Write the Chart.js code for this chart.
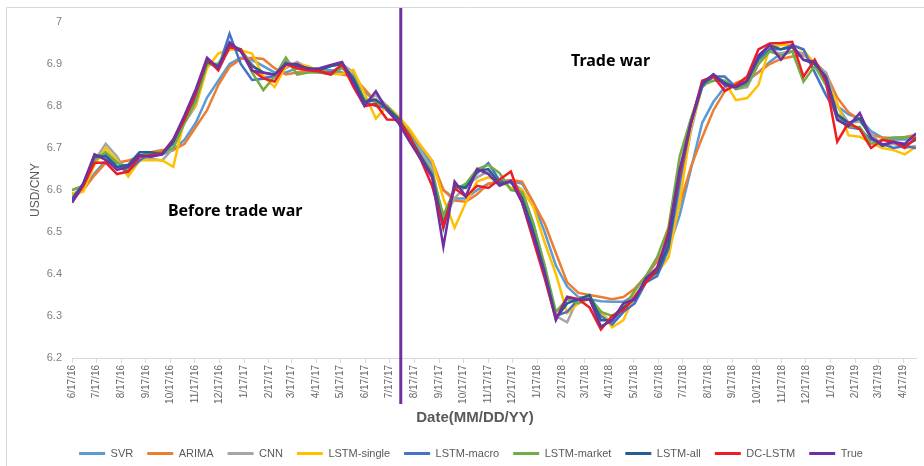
<!DOCTYPE html>
<html>
<head>
<meta charset="utf-8">
<title>USD/CNY forecasts</title>
<script src="https://cdn.jsdelivr.net/npm/chart.js@4.4.1/dist/chart.umd.min.js"></script>
<style>
  html, body { margin: 0; padding: 0; background: #fff; }
</style>
</head>
<body>
<canvas id="fxChart" width="924" height="466"></canvas>
<script>
// month ticks on the date axis
const tickLabels = [
  '6/17/16', '7/17/16', '8/17/16', '9/17/16', '10/17/16', '11/17/16', '12/17/16',
  '1/17/17', '2/17/17', '3/17/17', '4/17/17', '5/17/17', '6/17/17', '7/17/17',
  '8/17/17', '9/17/17', '10/17/17', '11/17/17', '12/17/17',
  '1/17/18', '2/17/18', '3/17/18', '4/17/18', '5/17/18', '6/17/18', '7/17/18',
  '8/17/18', '9/17/18', '10/17/18', '11/17/18', '12/17/18',
  '1/17/19', '2/17/19', '3/17/19', '4/17/19'
];

// one value every two weeks, starting 6/17/16
const startDate = '6/17/16';
const sampleStep = 14;
const tradeWarStart = '7/31/17';

const svr = [
  6.580, 6.600, 6.640, 6.670, 6.665, 6.655, 6.670, 6.680, 6.685, 6.695,
  6.720, 6.760, 6.820, 6.860, 6.900, 6.915, 6.910, 6.895, 6.880, 6.880,
  6.890, 6.885, 6.885, 6.885, 6.880, 6.870, 6.835, 6.810, 6.790, 6.770,
  6.735, 6.700, 6.660, 6.600, 6.580, 6.580, 6.600, 6.615, 6.620, 6.622,
  6.615, 6.570, 6.500, 6.420, 6.370, 6.345, 6.340, 6.335, 6.334, 6.334,
  6.350, 6.380, 6.415, 6.460, 6.540, 6.650, 6.760, 6.810, 6.845, 6.850,
  6.860, 6.880, 6.905, 6.925, 6.930, 6.925, 6.900, 6.870, 6.800, 6.780,
  6.770, 6.740, 6.725, 6.720, 6.720, 6.720
];
const arima = [
  6.590, 6.600, 6.635, 6.665, 6.665, 6.670, 6.680, 6.690, 6.695, 6.695,
  6.710, 6.750, 6.790, 6.850, 6.893, 6.912, 6.915, 6.912, 6.890, 6.875,
  6.880, 6.885, 6.885, 6.880, 6.875, 6.870, 6.840, 6.810, 6.790, 6.765,
  6.740, 6.705, 6.670, 6.600, 6.575, 6.572, 6.590, 6.615, 6.620, 6.624,
  6.620, 6.570, 6.520, 6.450, 6.380, 6.355, 6.350, 6.345, 6.340, 6.345,
  6.365, 6.395, 6.430, 6.480, 6.565, 6.655, 6.725, 6.790, 6.835, 6.855,
  6.865, 6.880, 6.900, 6.912, 6.918, 6.921, 6.905, 6.878, 6.820, 6.785,
  6.767, 6.731, 6.725, 6.724, 6.726, 6.731
];
const cnn = [
  6.600, 6.610, 6.670, 6.710, 6.680, 6.635, 6.670, 6.675, 6.670, 6.700,
  6.760, 6.800, 6.900, 6.900, 6.935, 6.935, 6.900, 6.870, 6.868, 6.890,
  6.905, 6.890, 6.885, 6.895, 6.900, 6.880, 6.810, 6.826, 6.800, 6.775,
  6.730, 6.690, 6.650, 6.530, 6.580, 6.610, 6.630, 6.645, 6.620, 6.620,
  6.600, 6.520, 6.420, 6.300, 6.285, 6.345, 6.340, 6.310, 6.280, 6.310,
  6.340, 6.380, 6.405, 6.440, 6.600, 6.740, 6.850, 6.870, 6.860, 6.840,
  6.845, 6.900, 6.930, 6.925, 6.930, 6.925, 6.900, 6.880, 6.800, 6.760,
  6.763, 6.735, 6.705, 6.710, 6.700, 6.705
];
const lstmSingle = [
  6.592, 6.596, 6.660, 6.700, 6.671, 6.632, 6.671, 6.671, 6.671, 6.655,
  6.770, 6.800, 6.890, 6.925, 6.935, 6.933, 6.925, 6.870, 6.845, 6.895,
  6.900, 6.895, 6.882, 6.876, 6.876, 6.886, 6.830, 6.770, 6.800, 6.775,
  6.745, 6.705, 6.670, 6.580, 6.510, 6.570, 6.620, 6.630, 6.622, 6.605,
  6.600, 6.560, 6.475, 6.400, 6.307, 6.330, 6.340, 6.312, 6.273, 6.290,
  6.350, 6.380, 6.402, 6.440, 6.570, 6.750, 6.845, 6.870, 6.858, 6.814,
  6.819, 6.850, 6.940, 6.945, 6.945, 6.933, 6.900, 6.860, 6.807, 6.730,
  6.727, 6.712, 6.700, 6.695, 6.685, 6.703
];
const lstmMacro = [
  6.580, 6.615, 6.680, 6.685, 6.655, 6.645, 6.670, 6.690, 6.688, 6.710,
  6.770, 6.820, 6.905, 6.890, 6.972, 6.900, 6.862, 6.865, 6.872, 6.905,
  6.895, 6.890, 6.880, 6.880, 6.895, 6.870, 6.810, 6.800, 6.795, 6.770,
  6.730, 6.680, 6.640, 6.520, 6.605, 6.610, 6.640, 6.664, 6.622, 6.618,
  6.590, 6.510, 6.410, 6.300, 6.310, 6.340, 6.340, 6.300, 6.280, 6.310,
  6.330, 6.380, 6.395, 6.460, 6.620, 6.760, 6.845, 6.870, 6.870, 6.845,
  6.855, 6.910, 6.935, 6.935, 6.945, 6.935, 6.880, 6.826, 6.780, 6.750,
  6.745, 6.720, 6.710, 6.700, 6.705, 6.700
];
const lstmMarket = [
  6.600, 6.610, 6.670, 6.690, 6.665, 6.650, 6.680, 6.690, 6.690, 6.700,
  6.760, 6.810, 6.900, 6.900, 6.945, 6.935, 6.880, 6.838, 6.870, 6.915,
  6.875, 6.880, 6.880, 6.875, 6.890, 6.870, 6.815, 6.810, 6.800, 6.770,
  6.730, 6.680, 6.640, 6.540, 6.600, 6.615, 6.650, 6.660, 6.640, 6.600,
  6.595, 6.520, 6.420, 6.310, 6.340, 6.330, 6.345, 6.310, 6.300, 6.320,
  6.360, 6.395, 6.440, 6.510, 6.680, 6.770, 6.850, 6.860, 6.860, 6.840,
  6.850, 6.900, 6.930, 6.920, 6.930, 6.858, 6.895, 6.850, 6.770, 6.750,
  6.750, 6.710, 6.720, 6.725, 6.725, 6.725
];
const lstmAll = [
  6.575, 6.615, 6.680, 6.680, 6.655, 6.660, 6.690, 6.690, 6.685, 6.715,
  6.770, 6.830, 6.905, 6.895, 6.945, 6.930, 6.895, 6.880, 6.875, 6.900,
  6.895, 6.890, 6.885, 6.895, 6.900, 6.865, 6.810, 6.815, 6.795, 6.770,
  6.725, 6.680, 6.635, 6.510, 6.610, 6.605, 6.645, 6.650, 6.615, 6.620,
  6.580, 6.500, 6.405, 6.295, 6.330, 6.340, 6.350, 6.290, 6.290, 6.320,
  6.340, 6.385, 6.405, 6.470, 6.640, 6.760, 6.850, 6.875, 6.855, 6.845,
  6.860, 6.915, 6.945, 6.935, 6.940, 6.910, 6.900, 6.870, 6.780, 6.760,
  6.770, 6.725, 6.705, 6.715, 6.705, 6.720
];
const dcLstm = [
  6.570, 6.610, 6.665, 6.665, 6.638, 6.644, 6.679, 6.683, 6.687, 6.720,
  6.768, 6.830, 6.912, 6.885, 6.940, 6.935, 6.886, 6.866, 6.858, 6.900,
  6.890, 6.885, 6.882, 6.875, 6.900, 6.846, 6.800, 6.805, 6.768, 6.767,
  6.727, 6.672, 6.610, 6.513, 6.604, 6.584, 6.610, 6.605, 6.625, 6.644,
  6.570, 6.480, 6.390, 6.292, 6.346, 6.340, 6.320, 6.268, 6.300, 6.314,
  6.346, 6.380, 6.412, 6.500, 6.640, 6.760, 6.860, 6.870, 6.836, 6.850,
  6.870, 6.935, 6.949, 6.950, 6.953, 6.870, 6.910, 6.858, 6.715, 6.760,
  6.745, 6.700, 6.719, 6.715, 6.700, 6.725
];
const trueRate = [
  6.570, 6.615, 6.685, 6.672, 6.648, 6.655, 6.683, 6.679, 6.685, 6.720,
  6.778, 6.840, 6.915, 6.890, 6.952, 6.930, 6.884, 6.879, 6.874, 6.900,
  6.900, 6.888, 6.890, 6.898, 6.905, 6.855, 6.800, 6.835, 6.790, 6.760,
  6.715, 6.673, 6.630, 6.465, 6.620, 6.585, 6.650, 6.638, 6.610, 6.622,
  6.570, 6.490, 6.400, 6.290, 6.345, 6.338, 6.340, 6.275, 6.290, 6.330,
  6.340, 6.390, 6.415, 6.490, 6.650, 6.760, 6.855, 6.875, 6.850, 6.845,
  6.860, 6.920, 6.945, 6.910, 6.945, 6.910, 6.905, 6.866, 6.767, 6.752,
  6.783, 6.725, 6.708, 6.714, 6.710, 6.735
];

const seriesNames = ['SVR', 'ARIMA', 'CNN', 'LSTM-single', 'LSTM-macro', 'LSTM-market', 'LSTM-all', 'DC-LSTM', 'True'];
const seriesValues = [svr, arima, cnn, lstmSingle, lstmMacro, lstmMarket, lstmAll, dcLstm, trueRate];
const seriesColors = ['#5B9BD5', '#ED7D31', '#A5A5A5', '#FFC000', '#4472C4', '#70AD47', '#255E91', '#EE1C25', '#7030A0'];

const xTitle = 'Date(MM/DD/YY)';
const notes = [
  { text: 'Before trade war', date: '1/6/17', value: 6.55 },
  { text: 'Trade war', date: '4/18/18', value: 6.905 }
];

// days since the first sample
function toDate(label) {
  const [m, d, y] = label.split('/').map(Number);
  return Date.UTC(2000 + y, m - 1, d);
}
function dayOf(label) {
  return Math.round((toDate(label) - toDate(startDate)) / 86400000);
}

const tickDays = tickLabels.map(dayOf);

const datasets = seriesNames.map((name, i) => ({
  label: name,
  data: seriesValues[i].map((v, j) => ({ x: j * sampleStep, y: v })),
  borderColor: seriesColors[i],
  backgroundColor: seriesColors[i],
  borderWidth: 2.5,
  pointRadius: 0,
  tension: 0,
  order: seriesNames.length - i   // later series on top, like the original
}));

// light frame round the whole chart
const framePlugin = {
  id: 'frame',
  beforeDraw(chart) {
    const ctx = chart.ctx;
    ctx.save();
    ctx.fillStyle = '#fff';
    ctx.fillRect(0, 0, chart.width, chart.height);
    ctx.strokeStyle = '#d9d9d9';
    ctx.lineWidth = 1;
    ctx.beginPath();
    ctx.moveTo(6.5, chart.height);
    ctx.lineTo(6.5, 7.5);
    ctx.lineTo(chart.width, 7.5);
    ctx.stroke();
    ctx.restore();
  }
};

// trade war divider, the two labels and the axis title (centred like the legend)
const markerPlugin = {
  id: 'markers',
  afterDatasetsDraw(chart) {
    const ctx = chart.ctx;
    const x = chart.scales.x;
    const y = chart.scales.y;
    ctx.save();
    const lineX = x.getPixelForValue(dayOf(tradeWarStart));
    ctx.strokeStyle = '#7030A0';
    ctx.lineWidth = 3;
    ctx.beginPath();
    ctx.moveTo(lineX, 8);
    ctx.lineTo(lineX, chart.chartArea.bottom + 46);
    ctx.stroke();

    ctx.fillStyle = '#000';
    ctx.font = "bold 16px 'Noto Sans', 'Liberation Sans', sans-serif";
    ctx.textAlign = 'center';
    ctx.textBaseline = 'middle';
    notes.forEach(n => {
      ctx.fillText(n.text, x.getPixelForValue(dayOf(n.date)), y.getPixelForValue(n.value));
    });

    const lg = chart.legend;
    ctx.fillStyle = '#595959';
    ctx.font = "bold 15px 'Liberation Sans', Arial, sans-serif";
    ctx.fillText(xTitle, (lg.left + lg.right) / 2 + 4, chart.chartArea.bottom + 60);
    ctx.restore();
  }
};

Chart.defaults.font.family = "'Liberation Sans', Arial, sans-serif";

new Chart(document.getElementById('fxChart'), {
  type: 'line',
  data: { datasets: datasets },
  options: {
    responsive: false,
    animation: false,
    devicePixelRatio: 1,
    layout: { padding: { left: 26, right: 8, top: 22, bottom: 0 } },
    scales: {
      x: {
        type: 'linear',
        min: 0,
        max: (trueRate.length - 1) * sampleStep,
        afterBuildTicks: axis => { axis.ticks = tickDays.map(v => ({ value: v })); },
        afterFit: axis => { axis.height = 76; },
        grid: { display: true, drawOnChartArea: false, drawTicks: true, tickLength: 5, color: '#d9d9d9' },
        border: { display: true, color: '#d9d9d9' },
        ticks: {
          autoSkip: false,
          minRotation: 90,
          maxRotation: 90,
          padding: 2,
          color: '#666',
          font: { size: 10 },
          callback: v => tickLabels[tickDays.indexOf(v)] || ''
        }
      },
      y: {
        min: 6.2,
        max: 7,
        afterFit: axis => { axis.width = 46; },
        grid: { display: false, drawTicks: false },
        border: { display: false },
        ticks: {
          stepSize: 0.1,
          padding: 10,
          color: '#7f7f7f',
          font: { size: 11 },
          callback: v => String(Number(v.toFixed(1)))
        },
        title: {
          display: true,
          text: 'USD/CNY',
          color: '#595959',
          font: { size: 12 },
          padding: { top: 2, bottom: 0 }
        }
      }
    },
    plugins: {
      legend: {
        position: 'bottom',
        maxHeight: 32,
        labels: {
          boxWidth: 26,
          boxHeight: 3,
          padding: 14,
          color: '#595959',
          font: { size: 11 },
          sort: (a, b) => a.datasetIndex - b.datasetIndex,
          generateLabels: chart => Chart.defaults.plugins.legend.labels.generateLabels(chart)
            .map(item => Object.assign(item, { fillStyle: item.strokeStyle, lineWidth: 0 }))
        }
      },
      tooltip: { enabled: false }
    }
  },
  plugins: [framePlugin, markerPlugin]
});
</script>
</body>
</html>
